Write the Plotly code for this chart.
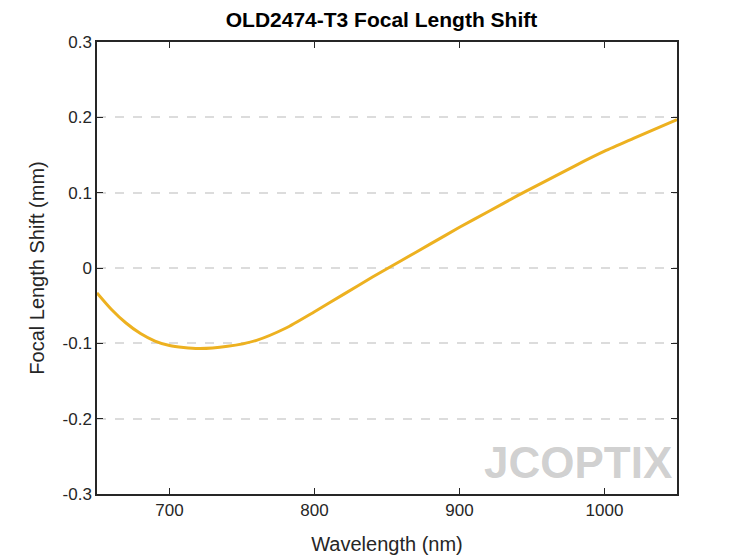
import plotly.graph_objects as go

wavelength = [650, 660, 670, 680, 690, 700, 720, 740, 760, 780, 800, 820, 840,
              860, 880, 900, 920, 940, 960, 980, 1000, 1020, 1050]
shift = [-0.033, -0.055, -0.073, -0.087, -0.097, -0.103, -0.107, -0.104, -0.096,
         -0.080, -0.058, -0.035, -0.012, 0.010, 0.032, 0.054, 0.075, 0.096,
         0.116, 0.136, 0.155, 0.172, 0.197]
xticks = [700, 800, 900, 1000]
yticks = [-0.3, -0.2, -0.1, 0, 0.1, 0.2, 0.3]
ytext = ["-0.3", "-0.2", "-0.1", "0", "0.1", "0.2", "0.3"]

fig = go.Figure()
fig.add_trace(go.Scatter(x=wavelength, y=shift, mode="lines",
                         line=dict(color="#EDB120", width=3, shape="spline", smoothing=0.7),
                         showlegend=False))

fig.add_annotation(x=0.995, y=0.01, xref="paper", yref="paper",
                   xanchor="right", yanchor="bottom", showarrow=False,
                   text="<b>JCOPTIX</b>",
                   font=dict(size=44, color="rgba(150,150,150,0.45)",
                             family="Liberation Sans Narrow, Liberation Sans"))

axis_common = dict(showline=True, linecolor="#262626", linewidth=1.5, mirror="ticks",
                   ticks="inside", ticklen=6, tickcolor="#262626",
                   zeroline=False, tickfont=dict(size=17, color="#262626"))

fig.update_layout(
    width=747, height=560,
    margin=dict(l=89, r=78, t=34, b=74),
    plot_bgcolor="white", paper_bgcolor="white",
    font=dict(family="Liberation Sans, Arial", color="#262626"),
    title=dict(text="<b>OLD2474-T3 Focal Length Shift</b>", x=0.5, y=0.992,
               xanchor="center", yanchor="top", font=dict(size=21, color="black")),
    xaxis=dict(range=[650, 1050], tickvals=xticks, showgrid=False,
               title=dict(text="Wavelength (nm)", font=dict(size=20), standoff=18),
               **axis_common),
    yaxis=dict(range=[-0.3, 0.3], tickvals=yticks, ticktext=ytext,
               showgrid=True, gridcolor="#dcdcdc", griddash="dash", gridwidth=2,
               title=dict(text="Focal Length Shift (mm)", font=dict(size=20), standoff=13),
               **axis_common),
)

fig.write_html("out.html")
